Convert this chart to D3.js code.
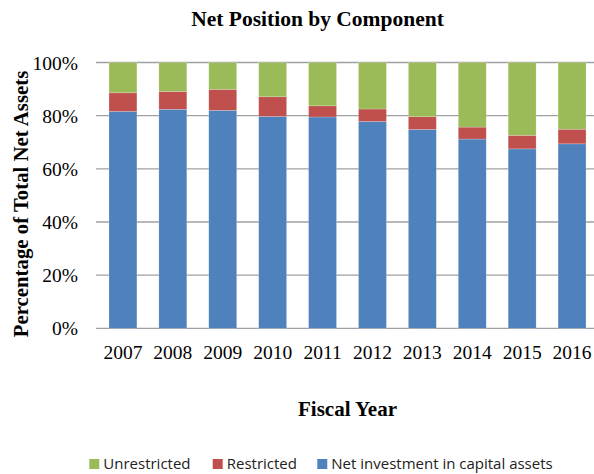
<!DOCTYPE html>
<html>
<head>
<meta charset="utf-8">
<script src="https://cdn.jsdelivr.net/npm/d3@7"></script>
<style>
  html, body { margin: 0; padding: 0; background: #fff; }
  svg { display: block; }
</style>
</head>
<body>
<svg id="chart" width="594" height="474"></svg>
<script>
// Fiscal years on the x axis
const years = ["2007", "2008", "2009", "2010", "2011", "2012", "2013", "2014", "2015", "2016"];

// Share of total net assets, in percent, by component
const netInvestment = [81.6, 82.4, 82.0, 79.7, 79.5, 77.8, 74.8, 71.2, 67.5, 69.4];
const restricted    = [7.0, 6.7, 7.9, 7.4, 4.2, 4.7, 4.8, 4.5, 5.1, 5.5];
const unrestricted  = [11.4, 10.9, 10.1, 12.9, 16.3, 17.5, 20.4, 24.3, 27.4, 25.1];

// Y axis ticks
const yTicks = [0, 20, 40, 60, 80, 100];

// Series order is bottom-to-top in the stack
const seriesKeys = ["Net investment in capital assets", "Restricted", "Unrestricted"];
const seriesColors = ["#4F81BD", "#C0504D", "#9BBB59"];
// Legend reads left-to-right in reverse stacking order
const legendOrder = ["Unrestricted", "Restricted", "Net investment in capital assets"];

const rows = years.map((y, i) => ({
  year: y,
  "Net investment in capital assets": netInvestment[i],
  "Restricted": restricted[i],
  "Unrestricted": unrestricted[i]
}));

const svg = d3.select("#chart");

const x = d3.scaleBand().domain(years).range([98, 597]).paddingInner(0.44).paddingOuter(0.22);
const y = d3.scaleLinear().domain([0, 100]).range([328.3, 62.5]);
const color = d3.scaleOrdinal().domain(seriesKeys).range(seriesColors);

const serif = "'Liberation Serif', 'Times New Roman', serif";

// Gridlines
svg.append("g")
  .selectAll("line")
  .data(yTicks)
  .join("line")
  .attr("x1", 96)
  .attr("x2", 597)
  .attr("y1", d => y(d))
  .attr("y2", d => y(d))
  .attr("stroke", "#A0A0A0")
  .attr("stroke-width", 1.3);

// Stacked bars
const stacked = d3.stack().keys(seriesKeys)(rows);
svg.append("g")
  .selectAll("g")
  .data(stacked)
  .join("g")
  .attr("fill", d => color(d.key))
  .selectAll("rect")
  .data(d => d)
  .join("rect")
  .attr("x", d => x(d.data.year))
  .attr("width", x.bandwidth())
  .attr("y", d => y(d[1]))
  .attr("height", d => y(d[0]) - y(d[1]))
  .attr("stroke", "rgba(255,255,255,0.35)")
  .attr("stroke-width", 0.6);

// Y axis labels
const yAxis = d3.axisLeft(y).tickValues(yTicks).tickFormat(d => d + "%").tickSize(0).tickPadding(0);
const gy = svg.append("g").attr("transform", "translate(78,0)").call(yAxis);
gy.select(".domain").remove();
gy.selectAll("text")
  .attr("font-family", serif)
  .attr("font-size", "19.5px")
  .attr("fill", "#000")
  .attr("dy", "0.34em");

// X axis labels
const xAxis = d3.axisBottom(x).tickSize(0).tickPadding(0);
const gx = svg.append("g").attr("transform", "translate(0,343)").call(xAxis);
gx.select(".domain").remove();
gx.selectAll("text")
  .attr("font-family", serif)
  .attr("font-size", "19.5px")
  .attr("fill", "#000")
  .attr("dy", "0.8em");

// Title
svg.append("text")
  .attr("x", 317.5)
  .attr("y", 26)
  .attr("text-anchor", "middle")
  .attr("font-family", serif)
  .attr("font-weight", "bold")
  .attr("font-size", "21.5px")
  .text("Net Position by Component");

// Axis titles
svg.append("text")
  .attr("transform", "translate(28,204) rotate(-90)")
  .attr("text-anchor", "middle")
  .attr("font-family", serif)
  .attr("font-weight", "bold")
  .attr("font-size", "20.8px")
  .text("Percentage of Total Net Assets");

svg.append("text")
  .attr("x", 347.5)
  .attr("y", 416)
  .attr("text-anchor", "middle")
  .attr("font-family", serif)
  .attr("font-weight", "bold")
  .attr("font-size", "21px")
  .text("Fiscal Year");

// Legend
const legendX = [89.3, 212.7, 317.3];
const legend = svg.append("g")
  .selectAll("g")
  .data(legendOrder)
  .join("g")
  .attr("transform", (d, i) => `translate(${legendX[i]},459)`);
legend.append("rect")
  .attr("width", 10)
  .attr("height", 10)
  .attr("fill", d => color(d));
legend.append("text")
  .attr("x", 14)
  .attr("y", 10)
  .attr("font-family", "'Open Sans', 'Liberation Sans', sans-serif")
  .attr("font-size", "15px")
  .attr("fill", "#222")
  .text(d => d);
</script>
</body>
</html>
